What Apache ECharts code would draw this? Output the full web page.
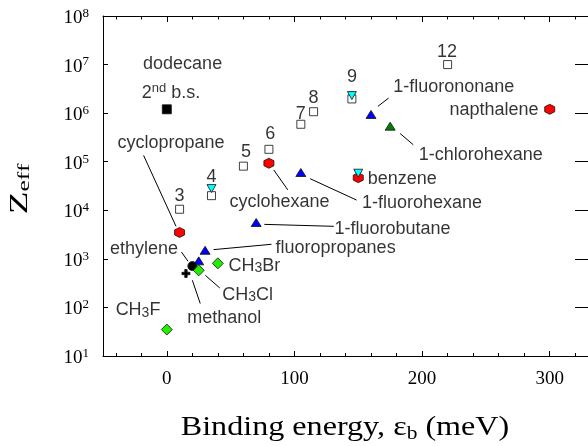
<!DOCTYPE html>
<html>
<head>
<meta charset="utf-8">
<script src="https://cdn.jsdelivr.net/npm/echarts@6/dist/echarts.min.js"></script>
<style>
html, body { margin: 0; padding: 0; background: #fff; }
#chart { width: 588px; height: 446px; }
</style>
</head>
<body>
<div id="chart"></div>
<script>
// n-alkanes (open squares), labelled by carbon number
var alkaneX = [10, 35, 60, 80, 105, 115, 145, 220];
var alkaneZ = [1.05e4, 2.0e4, 8.1e4, 1.8e5, 5.9e5, 1.07e6, 1.96e6, 1.0e7];
// deuterated molecules (cyan)
var deutX = [35, 145, 150];
var deutZ = [2.8e4, 2.3e6, 5.8e4];
// dodecane 2nd bound state
var dodec2X = [0];
var dodec2Z = [1.2e6];
// rings / aromatics (red)
var ringX = [10, 80, 150, 300];
var ringZ = [3.5e3, 9.3e4, 4.7e4, 1.2e6];
// fluoroalkanes (blue)
var fluoroX = [30, 25, 70, 105, 160];
var fluoroZ = [1.5e3, 910, 5.6e3, 6.0e4, 9.4e5];
// 1-chlorohexane (green triangle)
var chloroX = [175];
var chloroZ = [5.4e5];
// methyl halides CH3F, CH3Cl, CH3Br
var methylX = [0, 25, 40];
var methylZ = [35, 580, 810];
var ethyleneX = [20];
var ethyleneZ = [710];
var methanolX = [15];
var methanolZ = [500];

var xMajorTicks = [0, 100, 200, 300];
var xMinorTicks = [-40, -20, 20, 40, 60, 80, 120, 140, 160, 180, 220, 240, 260, 280, 320];

// text annotations: text, x, log10(Z), anchor
var noteText = ['dodecane', '2{p|nd} b.s.', 'cyclopropane', '3', '4', '5', '6', '7', '8', '9', '12',
  '1-fluorononane', 'napthalene', '1-chlorohexane', 'benzene', '1-fluorohexane', 'cyclohexane',
  '1-fluorobutane', 'fluoropropanes', 'CH{s|3}Br', 'ethylene', 'CH{s|3}Cl', 'methanol', 'CH{s|3}F'];
var noteX = [-19, -20, -39, 10, 35, 62, 81, 105, 115, 145, 219.5,
  177, 221, 197, 157, 152.5, 48.7,
  131, 84.8, 48, -45, 43, 15.6, -40.5];
var noteLogZ = [7.03, 6.43, 5.4, 4.31, 4.70, 5.20, 5.59, 6.0, 6.33, 6.76, 7.27,
  6.55, 6.08, 5.15, 4.66, 4.15, 4.17,
  3.63, 3.24, 2.87, 3.22, 2.27, 1.8, 1.95];
var noteCentered = [false, false, false, true, true, true, true, true, true, true, true,
  false, false, false, false, false, false,
  false, false, false, false, false, false, false];

// leader lines: x1, log10 Z1, x2, log10 Z2
var leaders = [
  [-18.2, 5.13, 7.2, 3.67],
  [83.8, 4.83, 94.8, 4.42],
  [112.3, 4.65, 148.7, 4.21],
  [165.4, 6.14, 173.8, 6.31],
  [182.8, 5.58, 193.1, 5.35],
  [76.4, 3.71, 130.8, 3.67],
  [36.6, 3.19, 82, 3.30],
  [11.5, 3.14, 16.6, 2.95],
  [30.2, 2.66, 41.5, 2.40],
  [20, 2.56, 26.2, 2.08]
];

function pairs(xs, ys) {
  return xs.map(function (x, i) { return [x, ys[i]]; });
}

var hexagon = 'path://M0,-1 L0.866,-0.5 L0.866,0.5 L0,1 L-0.866,0.5 L-0.866,-0.5 Z';
var plus = 'path://M-1,-0.3 L-0.3,-0.3 L-0.3,-1 L0.3,-1 L0.3,-0.3 L1,-0.3 L1,0.3 L0.3,0.3 L0.3,1 L-0.3,1 L-0.3,0.3 L-1,0.3 Z';
var edge = '#111';

function pointSeries(data, symbol, size, fill, z, rotate) {
  return {
    type: 'scatter',
    data: data,
    symbol: symbol,
    symbolSize: size,
    symbolRotate: rotate || 0,
    itemStyle: { color: fill, borderColor: edge, borderWidth: 0.8, opacity: 1 },
    z: z,
    silent: true
  };
}

var serifFont = 'Liberation Serif';
var sansFont = 'Liberation Sans';

var leaderSeries = leaders.map(function (l) {
  return {
    type: 'line',
    data: [[l[0], Math.pow(10, l[1])], [l[2], Math.pow(10, l[3])]],
    symbol: 'none',
    lineStyle: { color: '#000', width: 1 },
    z: 1,
    silent: true
  };
});

var noteData = noteText.map(function (t, i) {
  return {
    value: [noteX[i], Math.pow(10, noteLogZ[i])],
    name: t,
    label: noteCentered[i] ? { position: 'inside' } : { position: 'right', distance: 0 }
  };
});

var option = {
  animation: false,
  backgroundColor: '#fff',
  grid: { left: 103, top: 16, width: 492.7, height: 340 },
  xAxis: [
    {
      type: 'value', min: -50, max: 330, position: 'bottom',
      axisLine: { onZero: false, lineStyle: { color: '#000', width: 1 } },
      axisTick: { inside: true, length: 5, customValues: xMajorTicks, lineStyle: { color: '#000' } },
      axisLabel: { customValues: xMajorTicks, fontFamily: serifFont, fontSize: 19, color: '#000', margin: 14 },
      splitLine: { show: false }
    },
    {
      type: 'value', min: -50, max: 330, position: 'bottom',
      axisLine: { show: false, onZero: false },
      axisTick: { inside: true, length: 3, customValues: xMinorTicks, lineStyle: { color: '#000' } },
      axisLabel: { show: false },
      splitLine: { show: false }
    },
    {
      type: 'value', min: -50, max: 330, position: 'top',
      axisLine: { onZero: false, lineStyle: { color: '#000', width: 1 } },
      axisTick: { inside: true, length: 6, customValues: xMajorTicks, lineStyle: { color: '#000' } },
      axisLabel: { show: false },
      splitLine: { show: false }
    },
    {
      type: 'value', min: -50, max: 330, position: 'top',
      axisLine: { show: false, onZero: false },
      axisTick: { inside: true, length: 3.5, customValues: xMinorTicks, lineStyle: { color: '#000' } },
      axisLabel: { show: false },
      splitLine: { show: false }
    }
  ],
  yAxis: [
    {
      type: 'log', logBase: 10, min: 10, max: 1e8, position: 'left',
      axisLine: { show: true, onZero: false, lineStyle: { color: '#000', width: 1 } },
      axisTick: { inside: true, length: 5, lineStyle: { color: '#000' } },
      minorTick: { show: false },
      splitLine: { show: false },
      axisLabel: {
        margin: 14,
        color: '#000',
        formatter: function (v) {
          return '{b|10}{p|' + Math.round(Math.log10(v)) + '}';
        },
        rich: {
          b: { fontFamily: serifFont, fontSize: 19, lineHeight: 18, padding: [4, 0, 0, 0], color: '#000' },
          p: { fontFamily: serifFont, fontSize: 13, lineHeight: 13, verticalAlign: 'top', color: '#000' }
        }
      }
    },
    {
      type: 'log', logBase: 10, min: 10, max: 1e8, position: 'right',
      axisLine: { show: true, onZero: false, lineStyle: { color: '#000', width: 1 } },
      axisTick: { inside: true, length: 13, lineStyle: { color: '#000' } },
      axisLabel: { show: false },
      splitLine: { show: false }
    }
  ],
  series: [
    pointSeries(pairs(alkaneX, alkaneZ), 'rect', 8, '#fff', 2),
    pointSeries(pairs(dodec2X, dodec2Z), 'rect', 9, '#000', 2),
    pointSeries(pairs(ringX, ringZ), hexagon, 10, '#ff0000', 3),
    pointSeries(pairs(deutX, deutZ), 'triangle', [9, 8], '#00ffff', 4, 180),
    pointSeries(pairs(fluoroX, fluoroZ), 'triangle', [10, 8], '#0000ff', 3),
    pointSeries(pairs(chloroX, chloroZ), 'triangle', [10, 8], '#008000', 3),
    pointSeries(pairs(ethyleneX, ethyleneZ), 'circle', 9, '#000', 3),
    pointSeries(pairs(methylX, methylZ), 'diamond', 11, '#22ee00', 4),
    pointSeries(pairs(methanolX, methanolZ), plus, 8, '#000', 4),
    {
      type: 'scatter',
      data: noteData,
      symbolSize: 1,
      itemStyle: { color: 'rgba(0,0,0,0)' },
      z: 5,
      silent: true,
      label: {
        show: true,
        color: '#000',
        fontFamily: sansFont,
        fontSize: 18,
        lineHeight: 22,
        formatter: function (p) { return '{n|' + p.name.replace(/\{(s|p)\|([^}]*)\}/g, '}{$1|$2}{n|') + '}'; },
        rich: {
          n: { fontFamily: sansFont, fontSize: 18, lineHeight: 20, padding: [3, 0, 2, 0], color: '#000' },
          s: { fontFamily: sansFont, fontSize: 14, lineHeight: 14, verticalAlign: 'bottom', color: '#000' },
          p: { fontFamily: sansFont, fontSize: 13, lineHeight: 13, verticalAlign: 'top', color: '#000' }
        }
      }
    }
  ].concat(leaderSeries),
  graphic: [
    {
      type: 'text', x: 345, y: 428, scaleX: 1.19,
      style: {
        text: '{t|Binding energy, \u03b5}{u|b}{t| (meV)}',
        textAlign: 'center', textVerticalAlign: 'middle',
        rich: {
          t: { fontFamily: serifFont, fontSize: 27, lineHeight: 30, fill: '#000' },
          u: { fontFamily: serifFont, fontSize: 18, lineHeight: 18, verticalAlign: 'bottom', fill: '#000' }
        }
      }
    },
    {
      type: 'text', x: 20, y: 189, rotation: Math.PI / 2, scaleX: 1.5,
      style: {
        text: '{t|Z}{u|eff}',
        textAlign: 'center', textVerticalAlign: 'middle',
        rich: {
          t: { fontFamily: serifFont, fontSize: 25, lineHeight: 26, fill: '#000' },
          u: { fontFamily: serifFont, fontSize: 17, lineHeight: 16, verticalAlign: 'bottom', fill: '#000' }
        }
      }
    }
  ]
};

var myChart = echarts.init(document.getElementById('chart'));
myChart.setOption(option);
</script>
</body>
</html>
